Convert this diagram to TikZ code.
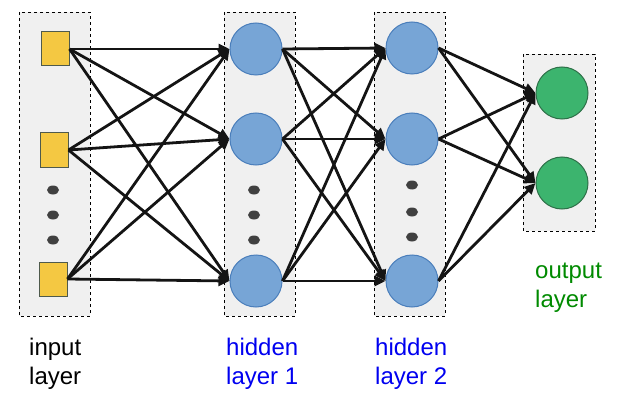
\documentclass[tikz,border=0pt]{standalone}
\usepackage{fontspec}
\setmainfont{Liberation Sans}
\usepackage{xcolor}
\usepackage{tikz}
\usetikzlibrary{arrows.meta,positioning,shapes.geometric}
\definecolor{layerfill}{HTML}{F0F0F0}
\definecolor{inputfill}{HTML}{F4C842}
\definecolor{inputdraw}{HTML}{4E5A4C}
\definecolor{hiddenfill}{HTML}{77A5D6}
\definecolor{hiddendraw}{HTML}{4A7EBB}
\definecolor{outputfill}{HTML}{3CB46E}
\definecolor{outputdraw}{HTML}{2E7048}
\definecolor{dotgray}{HTML}{404040}
\definecolor{hiddentext}{HTML}{0000F0}
\definecolor{outputtext}{HTML}{008A00}
\tikzset{
  layerbox/.style={draw=black, dashed, fill=layerfill, line width=0.8pt},
  inputunit/.style={draw=inputdraw, fill=inputfill, line width=1pt, minimum width=28pt, minimum height=34pt, inner sep=0pt},
  hiddenunit/.style={draw=hiddendraw, fill=hiddenfill, circle, line width=1pt, minimum size=52pt, inner sep=0pt},
  outputunit/.style={draw=outputdraw, fill=outputfill, circle, line width=1pt, minimum size=52pt, inner sep=0pt},
  layerlabel/.style={anchor=north west, align=left, inner sep=0pt, font=\fontsize{24}{29}\selectfont},
  arrow/.style={-{Triangle[length=11pt, width=10pt]}, line width=2.8pt, draw=black!92}
}

\begin{document}
\begin{tikzpicture}[x=1pt, y=-1pt]
  \useasboundingbox (0,0) rectangle (617,406);

  % layer frames
  \draw[layerbox] (19,12) rectangle (90,316);
  \draw[layerbox] (224,12) rectangle (295,316);
  \draw[layerbox] (374,12) rectangle (445,316);
  \draw[layerbox] (523,54) rectangle (595,231);

  \node[inputunit] (in1) at (55,49) {};
  \node[inputunit] (in2) at (54,150) {};
  \node[inputunit] (in3) at (53,279) {};

  \node[hiddenunit] (hA1) at (256,49) {};
  \node[hiddenunit] (hA2) at (256,139) {};
  \node[hiddenunit] (hA3) at (256,281) {};

  \node[hiddenunit] (hB1) at (412,48) {};
  \node[hiddenunit] (hB2) at (412,139) {};
  \node[hiddenunit] (hB3) at (412,281) {};

  \node[outputunit] (out1) at (562,93) {};
  \node[outputunit] (out2) at (562,183) {};

  % dots
  \fill[dotgray] (53,190) ellipse (6 and 4.5);
  \fill[dotgray] (53,215) ellipse (6 and 4.5);
  \fill[dotgray] (53,240) ellipse (6 and 4.5);
  \fill[dotgray] (254,190) ellipse (6 and 4.5);
  \fill[dotgray] (254,215) ellipse (6 and 4.5);
  \fill[dotgray] (254,240) ellipse (6 and 4.5);
  \fill[dotgray] (412,185) ellipse (6 and 4.5);
  \fill[dotgray] (412,212) ellipse (6 and 4.5);
  \fill[dotgray] (412,237) ellipse (6 and 4.5);

  % input -> hidden 1
  \draw[arrow] (in1.east) -- (hA1.west);
  \draw[arrow] (in1.east) -- (hA2.west);
  \draw[arrow] (in1.east) -- (hA3.west);
  \draw[arrow] (in2.east) -- (hA1.west);
  \draw[arrow] (in2.east) -- (hA2.west);
  \draw[arrow] (in2.east) -- (hA3.west);
  \draw[arrow] (in3.east) -- (hA1.west);
  \draw[arrow] (in3.east) -- (hA2.west);
  \draw[arrow] (in3.east) -- (hA3.west);

  % hidden 1 -> hidden 2
  \draw[arrow] (hA1.east) -- (hB1.west);
  \draw[arrow] (hA1.east) -- (hB2.west);
  \draw[arrow] (hA1.east) -- (hB3.west);
  \draw[arrow] (hA2.east) -- (hB1.west);
  \draw[arrow] (hA2.east) -- (hB2.west);
  \draw[arrow] (hA2.east) -- (hB3.west);
  \draw[arrow] (hA3.east) -- (hB1.west);
  \draw[arrow] (hA3.east) -- (hB2.west);
  \draw[arrow] (hA3.east) -- (hB3.west);

  % hidden 2 -> output
  \draw[arrow] (hB1.east) -- (out1.west);
  \draw[arrow] (hB1.east) -- (out2.west);
  \draw[arrow] (hB2.east) -- (out1.west);
  \draw[arrow] (hB2.east) -- (out2.west);
  \draw[arrow] (hB3.east) -- (out1.west);
  \draw[arrow] (hB3.east) -- (out2.west);

  % labels
  \node[layerlabel] (inlabel) at (29,338) {input\\layer};
  \node[layerlabel, text=hiddentext] (hAlabel) at (226,338) {hidden\\layer 1};
  \node[layerlabel, text=hiddentext] (hBlabel) at (375,338) {hidden\\layer 2};
  \node[layerlabel, text=outputtext] (outlabel) at (535,263) {output\\layer};
\end{tikzpicture}
\end{document}
